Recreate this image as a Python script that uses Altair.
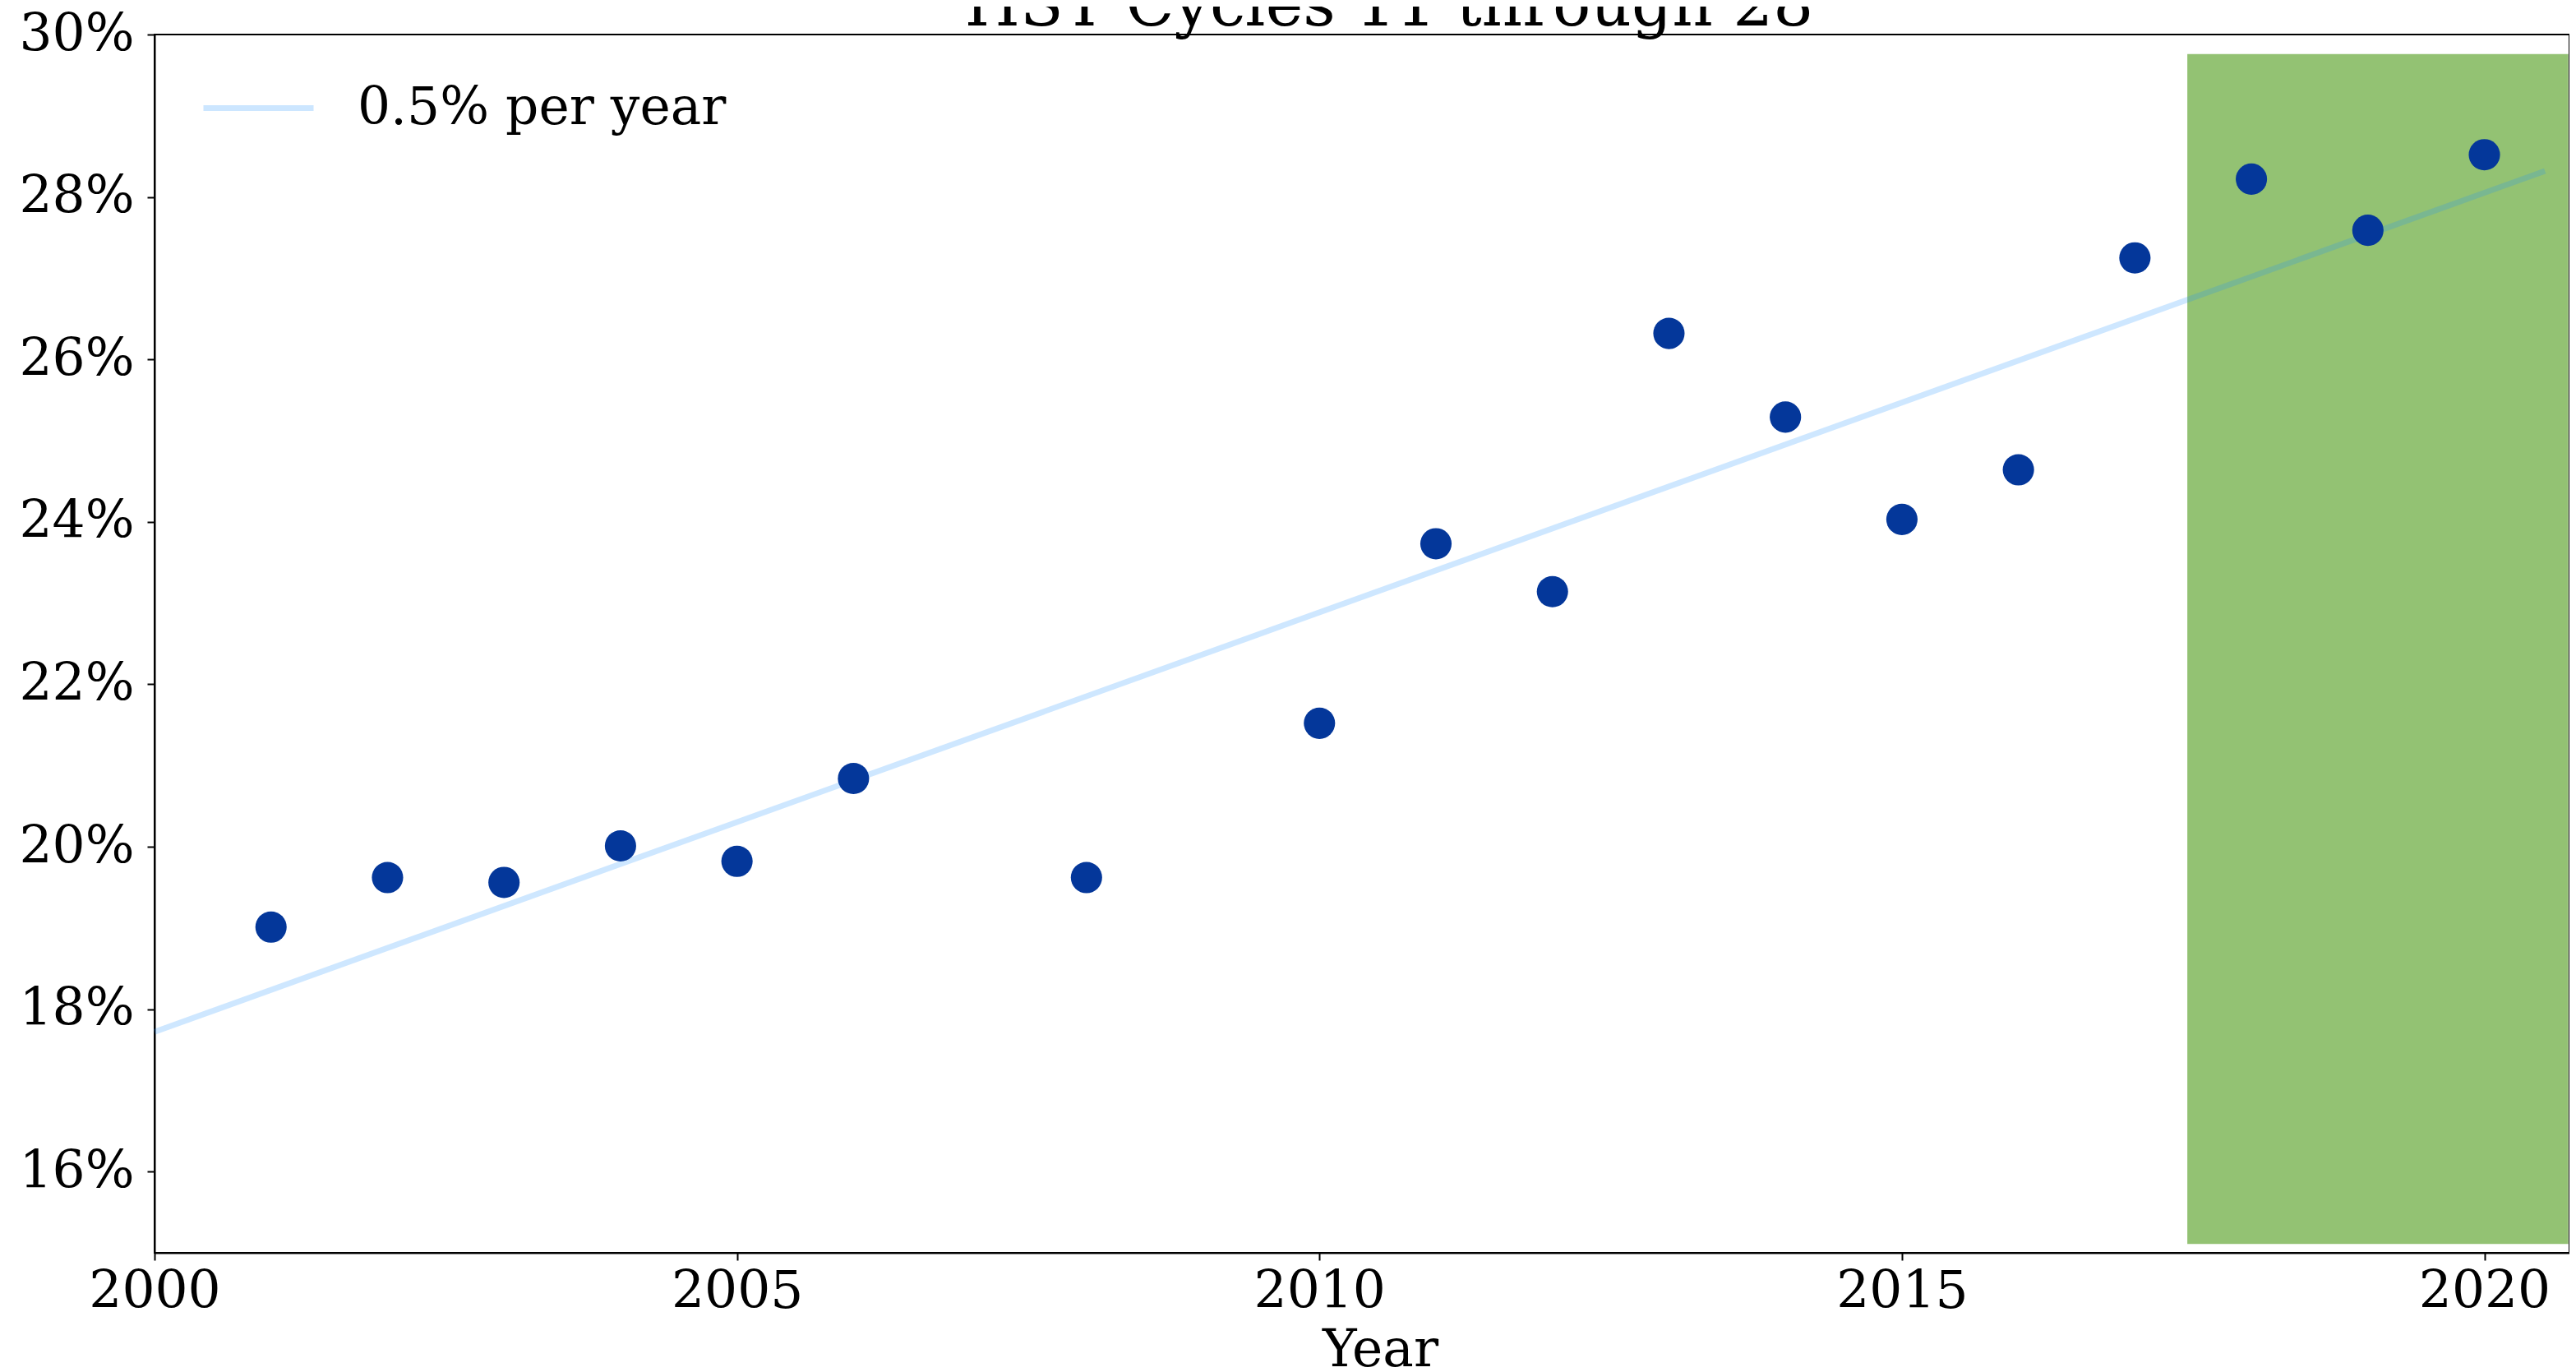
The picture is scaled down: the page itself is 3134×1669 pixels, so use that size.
import altair as alt
import pandas as pd

# Data
years = [2001, 2002, 2003, 2004, 2005, 2006, 2008, 2010, 2011, 2012,
         2013, 2014, 2015, 2016, 2017, 2018, 2019, 2020]
pct = [19.01, 19.62, 19.56, 20.01, 19.82, 20.84, 19.62, 21.52, 23.73, 23.14,
       26.32, 25.29, 24.03, 24.64, 27.25, 28.22, 27.59, 28.52]

trend_years = [2000.0, 2020.52]
trend_pct = [17.72, 28.32]
trend_label = "0.5% per year"

rect_x = [2017.45, 2020.72]
rect_y = [15.11, 29.76]

x_ticks = [2000, 2005, 2010, 2015, 2020]
y_ticks = [16, 18, 20, 22, 24, 26, 28, 30]

FONT = "DejaVu Serif"
FS = 63

pts = pd.DataFrame({"year": years, "pct": pct})
trend = pd.DataFrame({"year": trend_years, "pct": trend_pct,
                      "series": [trend_label] * len(trend_years)})
rect = pd.DataFrame({"x1": [rect_x[0]], "x2": [rect_x[1]],
                     "y1": [rect_y[0]], "y2": [rect_y[1]]})

xscale = alt.Scale(domain=[2000, 2020.73], nice=False, zero=False)
yscale = alt.Scale(domain=[15, 30], nice=False, zero=False)

xaxis = alt.Axis(values=x_ticks, format="d", title="Year",
                 labelBaseline="alphabetic", labelPadding=57, labelFlush=False,
                 titleBaseline="alphabetic", titleY=137, titleX=1491)
yaxis = alt.Axis(values=y_ticks, labelExpr="datum.value + '%'", title=None,
                 labelPadding=16, labelFlush=False)

rect_layer = alt.Chart(rect).mark_rect(color="#93C273").encode(
    x=alt.X("x1:Q", scale=xscale, axis=xaxis),
    x2="x2:Q",
    y=alt.Y("y1:Q", scale=yscale, axis=yaxis),
    y2="y2:Q",
)

line_layer = alt.Chart(trend).mark_line(strokeWidth=7, opacity=0.22).encode(
    x=alt.X("year:Q", scale=xscale),
    y=alt.Y("pct:Q", scale=yscale),
    color=alt.Color("series:N",
                    scale=alt.Scale(domain=[trend_label], range=["#1E90FF"]),
                    legend=alt.Legend(title=None, orient="none",
                                      legendX=56, legendY=19,
                                      symbolType="stroke", symbolSize=17956,
                                      symbolStrokeWidth=7, symbolOpacity=0.22,
                                      labelOffset=50, padding=0,
                                      labelFont=FONT, labelFontSize=FS,
                                      labelColor="black", labelLimit=0)),
)

pt_layer = alt.Chart(pts).mark_circle(size=1452, color="#04379A", opacity=1).encode(
    x=alt.X("year:Q", scale=xscale),
    y=alt.Y("pct:Q", scale=yscale),
)

chart = alt.layer(rect_layer, line_layer, pt_layer).properties(
    width=2938,
    height=1482,
    background="white",
    autosize=alt.AutoSizeParams(type="none"),
    padding={"left": 180, "top": 34, "right": 0, "bottom": 145},
    title=alt.TitleParams("HST Cycles 11 through 28", font=FONT, fontSize=77,
                          fontWeight="normal", color="black",
                          baseline="alphabetic", offset=0, dy=97, dx=33,
                          anchor="middle", frame="group"),
).configure_axis(
    grid=False,
    domainColor="black", domainWidth=2,
    tickColor="black", tickWidth=2, tickSize=9,
    labelFont=FONT, labelFontSize=FS, labelColor="black",
    titleFont=FONT, titleFontSize=FS, titleFontWeight="normal", titleColor="black",
).configure_view(
    stroke="black", strokeWidth=2,
)

chart.save("out.html", embed_options={"renderer": "svg", "actions": False})
